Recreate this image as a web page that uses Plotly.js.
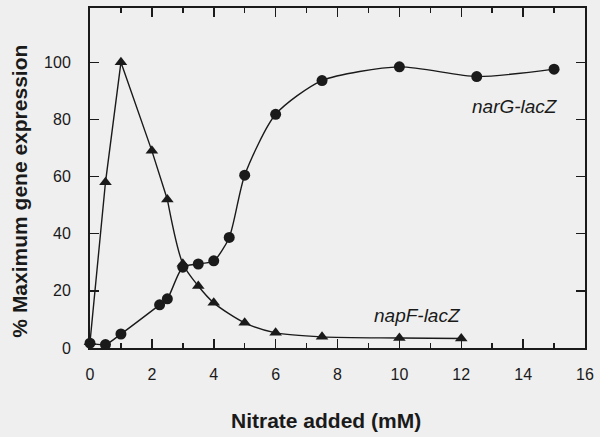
<!DOCTYPE html>
<html>
<head>
<meta charset="utf-8">
<script src="https://cdn.plot.ly/plotly-3.0.1.min.js"></script>
<style>
  body { margin: 0; background: #efefef; }
  #chart { width: 600px; height: 437px; }
</style>
</head>
<body>
<div id="chart"></div>
<script>
// nitrate added (mM) and % maximum expression
var napX = [0, 0.5, 1, 2, 2.5, 3, 3.5, 4, 5, 6, 7.5, 10, 12]
var napY = [2, 58, 100, 69, 52, 29.5, 21.7, 15.8, 8.8, 5.3, 3.9, 3.5, 3.3]

var narX = [0, 0.5, 1, 2.25, 2.5, 3, 3.5, 4, 4.5, 5, 6, 7.5, 10, 12.5, 15]
var narY = [1.7, 1.2, 4.9, 15.1, 17.2, 28.3, 29.4, 30.5, 38.7, 60.5, 81.8, 93.6, 98.4, 95, 97.6]

var labels = ['narG-lacZ', 'napF-lacZ']
var xTitle = 'Nitrate added (mM)'
var yTitle = '% Maximum gene expression'

var ink = '#1a1a1a'
var fam = 'Liberation Sans, Arial, sans-serif'

// napF rises and falls in straight lines up to 2.5 mM, then tails off smoothly
var napRise = {
    x: napX.slice(0, 5),
    y: napY.slice(0, 5),
    mode: 'lines',
    line: {color: ink, width: 1.4},
    hoverinfo: 'skip'
}
var napTail = {
    x: napX.slice(4),
    y: napY.slice(4),
    mode: 'lines',
    line: {color: ink, width: 1.4, shape: 'spline', smoothing: 0.8},
    hoverinfo: 'skip'
}
var napPts = {
    x: napX,
    y: napY,
    mode: 'markers',
    marker: {symbol: 'triangle-up', size: 11, color: ink},
    cliponaxis: false
}
var narTrace = {
    x: narX,
    y: narY,
    mode: 'lines+markers',
    line: {color: ink, width: 1.4, shape: 'spline', smoothing: 0.7},
    marker: {symbol: 'circle', size: 11, color: ink},
    cliponaxis: false
}

var tickFont = {family: fam, size: 16, color: ink}
var titleFont = {family: fam, size: 21, color: ink, weight: 'bold'}
var labelFont = {family: fam, size: 19, color: ink}

var layout = {
    width: 600,
    height: 437,
    margin: {l: 90, r: 15, t: 8, b: 89},
    paper_bgcolor: '#efefef',
    plot_bgcolor: '#efefef',
    showlegend: false,
    xaxis: {
        range: [0, 16],
        dtick: 2,
        ticks: 'inside',
        ticklen: 9,
        tickwidth: 1.5,
        tickcolor: ink,
        minor: {dtick: 1, ticks: 'inside', ticklen: 5, tickwidth: 1.5, tickcolor: ink},
        showline: true,
        linewidth: 2,
        linecolor: ink,
        mirror: 'ticks',
        showgrid: false,
        zeroline: false,
        tickfont: tickFont,
        ticklabelstandoff: 11
    },
    yaxis: {
        range: [0, 119],
        tickvals: [0, 20, 40, 60, 80, 100],
        ticks: 'inside',
        ticklen: 9,
        tickwidth: 1.5,
        tickcolor: ink,
        showline: true,
        linewidth: 2,
        linecolor: ink,
        mirror: 'ticks',
        showgrid: false,
        zeroline: false,
        tickfont: tickFont,
        ticklabelstandoff: 14
    },
    annotations: [
        {x: 13.75, y: 84.5, text: '<i>' + labels[0] + '</i>', showarrow: false, font: labelFont},
        {x: 10.6, y: 11.5, text: '<i>' + labels[1] + '</i>', showarrow: false, font: labelFont},
        // axis titles sit a little off-centre in the original, so place them by hand
        {xref: 'paper', yref: 'paper', x: 0.477, y: -0.212, xanchor: 'center', yanchor: 'middle',
         text: xTitle, showarrow: false, font: titleFont},
        {xref: 'paper', yref: 'paper', x: -0.142, y: 0.462, xanchor: 'center', yanchor: 'middle',
         text: yTitle, textangle: -90, showarrow: false, font: titleFont}
    ]
}

Plotly.newPlot('chart', [napRise, napTail, napPts, narTrace], layout, {displayModeBar: false, staticPlot: true})
</script>
</body>
</html>
